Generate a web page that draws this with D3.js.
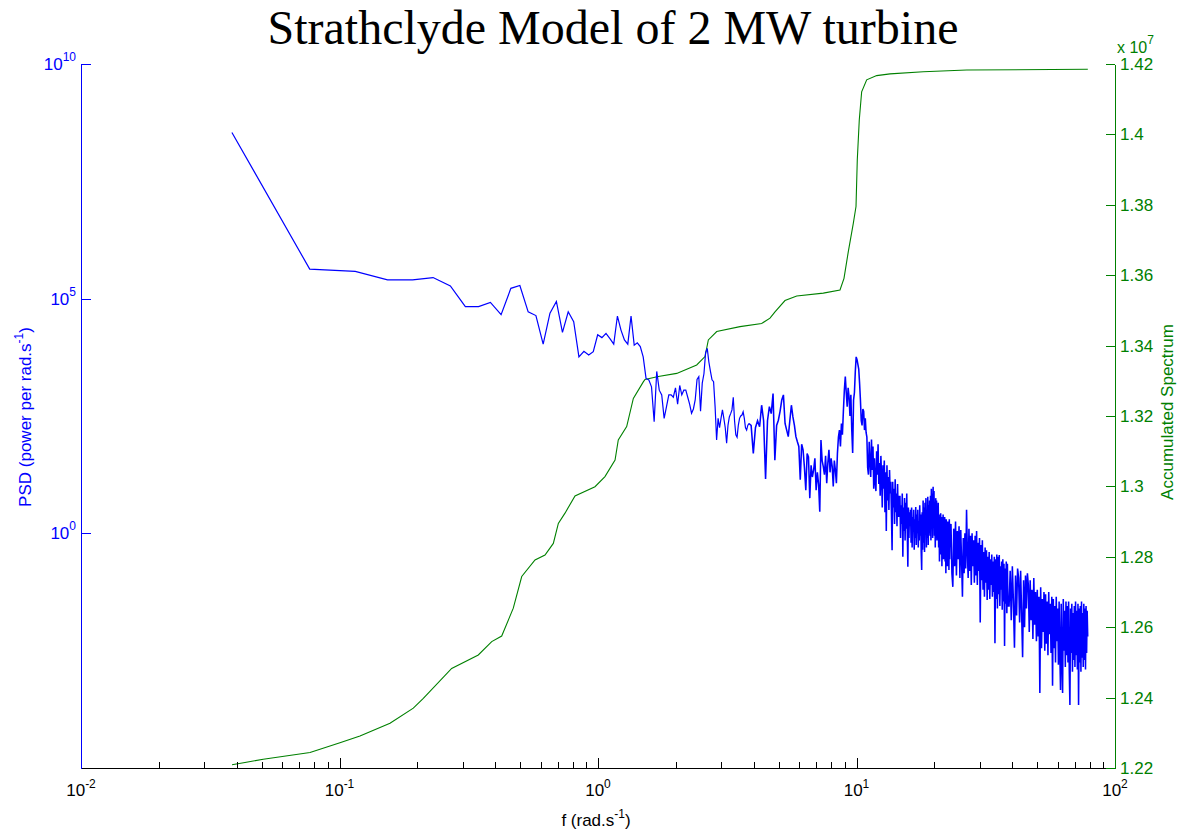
<!DOCTYPE html>
<html>
<head>
<meta charset="utf-8">
<script src="https://cdn.jsdelivr.net/npm/d3@7"></script>
<style>
  body { margin: 0; background: #fff; }
  svg { display: block; }
</style>
</head>
<body>
<svg id="chart" width="1178" height="832"></svg>
<script>
// ---------------------------------------------------------------
// Data
// ---------------------------------------------------------------
const chartTitle = "Strathclyde Model of 2 MW turbine";

// spectral resolution of the PSD, rad/s per bin
const binWidth = 0.03835;

// PSD as log10(power per rad/s), bins 1..42 (every bin)
const psdLogBins1to42 = [
  8.54, 5.63, 5.58, 5.40, 5.40, 5.45, 5.27, 4.83, 4.83, 4.92,
  4.66, 5.22, 5.28, 4.72, 4.64, 4.03, 4.69, 4.94, 4.28, 4.72,
  4.51, 3.76, 3.88, 3.80, 3.87, 4.23, 4.17, 4.26, 4.15, 4.03,
  4.63, 4.33, 4.12, 4.03, 4.63, 4.01, 4.06, 3.98, 3.76, 3.30,
  3.27, 3.12
];

// bins 43..100 (every bin)
const psdLogBins43to100 = [
  2.38, 3.45, 3.05, 2.95, 2.45, 2.70, 2.95, 2.95, 2.90, 3.10,
  2.75, 3.15, 2.95, 3.05, 3.05, 2.90, 2.75, 2.56, 2.65, 2.85,
  3.28, 3.34, 2.60, 3.20, 3.40, 3.85, 3.94, 3.65, 3.45, 3.27,
  3.23, 2.70, 1.99, 2.45, 2.25, 2.45, 2.63, 2.45, 2.25, 1.92,
  2.30, 2.48, 2.55, 2.63, 2.90, 2.40, 2.10, 2.05, 2.30, 2.45,
  2.50, 2.52, 2.59, 2.45, 2.25, 2.20, 2.30, 2.34
];

// bins 102..260 (every 2nd bin)
const psdLogBins102to260 = [
  2.30, 1.70, 2.25, 2.40, 2.27, 2.73, 2.40, 1.16, 2.40, 2.70,
  2.55, 2.98, 1.56, 2.30, 2.41, 2.60, 2.84, 2.95, 2.34, 2.20,
  2.06, 2.40, 2.73, 2.48, 2.30, 2.06, 1.95, 1.85, 1.14, 1.90,
  1.78, 1.40, 0.92, 1.70, 1.63, 0.75, 1.45, 1.20, 1.35, 1.60,
  0.92, 1.30, 1.05, 0.46, 1.99, 1.55, 1.42, 1.25, 1.65, 1.07,
  1.50, 1.78, 1.30, 1.60, 1.42, 1.00, 1.55, 1.35, 1.07, 1.70,
  2.05, 2.20, 1.85, 2.34, 2.10, 2.60, 3.05, 3.34, 3.00, 2.70,
  3.10, 2.91, 2.50, 2.95, 2.20, 1.71, 2.84, 3.00, 3.45, 3.76
];

// bins 262..600 (every 2nd bin)
const psdLogBins262to600 = [
  3.70, 3.60, 3.50, 3.20, 2.85, 2.40, 2.30, 2.65, 2.60, 2.20,
  2.45, 2.15, 2.05, 1.40, 1.25, 1.95, 1.50, 1.20, 2.00, 1.35,
  1.85, 0.95, 1.60, 1.10, 0.90, 1.75, 1.25, 1.90, 1.05, 1.50,
  0.80, 1.65, 1.20, 0.55, 1.45, 0.95, 1.55, 0.45, 1.30, 0.05,
  1.45, 0.70, 1.20, 0.50, 1.35, 0.85, 1.10, 0.40, -0.36, 1.10,
  0.55, 0.95, 0.20, 1.15, 0.45, 0.85, 0.15, 1.05, 0.35, 0.80,
  0.35, 0.80, -0.10, 0.60, 0.20, 0.85, -0.50, 0.55, 0.05, 0.75,
  -0.15, 0.65, 0.10, 0.85, 0.00, -0.71, 0.55, -0.10, 0.45, 0.15,
  0.50, -0.20, 0.55, -0.30, 0.35, 0.05, 0.50, -0.35, 0.30, -0.10,
  0.56, -0.25, 0.40, 0.00, 0.50, -0.30, 0.25, -0.15, 0.60, -0.05,
  0.40, -0.40, -0.78, 0.45, -0.35, 0.70, -0.20, 0.55, -0.40, 0.65,
  0.05, 0.75, -0.30, 0.50, -0.10, 0.78, -0.25, 0.60, 0.00, 0.70,
  -0.05, 0.80, -0.15, 0.95, 0.10, 0.85, -0.10, 0.99, 0.20, 0.90,
  -0.05, 0.60, -0.30, 0.75, 0.05, 0.70, -0.15, 0.55, 0.10, 0.65,
  -0.30, 0.40, -0.60, 0.30, -0.20, 0.43, -0.45, 0.35, -0.70, 0.20,
  -0.35, 0.40, -0.55, 0.25, -0.15, 0.35, -0.60, 0.10, -0.85, 0.30,
  -0.50, 0.20, -0.70, 0.25, -0.40, 0.15, -0.78, 0.30, -0.55, 0.10
];

// bins 605..1005 (every 5th bin)
const psdLogBins605to1005 = [
  0.20, -0.85, -1.14, 0.10, -0.70, 0.25, -0.90, 0.05, -0.55, 0.15,
  -0.95, 0.07, -0.60, -1.35, -0.10, -0.85, 0.00, -0.75, 0.50, -0.40,
  -0.95, 0.10, -0.80, -0.05, -1.10, 0.00, -0.70, -0.15, -1.05, -0.05,
  -0.90, 0.05, -1.10, -0.20, -0.80, -0.10, -1.90, -0.25, -1.00, -0.15,
  -1.20, -0.40, -1.35, -0.30, -1.05, -0.36, -1.42, -0.50, -1.20, -0.40,
  -1.40, -0.55, -1.10, -0.45, -1.35, -0.60, -1.25, -0.50, -2.34, -0.55,
  -1.40, -0.45, -1.60, -0.50, -1.30, -0.46, -1.55, -0.70, -1.20, -0.60,
  -1.63, -0.55, -1.45, -0.65, -2.40, -0.75, -1.50, -0.60, -1.70, -0.65,
  -1.55
];

// bins 1015..2045 (every 10th bin)
const psdLogBins1015to2045 = [
  -1.55, -0.80, -1.85, -0.70, -1.45, -2.44, -0.90, -1.75, -0.75,
  -0.95, -1.90, -0.80, -1.70, -2.64, -1.00, -2.00, -0.90, -1.60, -0.85,
  -1.10, -2.10, -1.00, -1.85, -1.20, -2.25, -0.95, -1.95, -1.25, -2.30,
  -1.20, -2.20, -1.35, -3.40, -1.15, -2.45, -1.40, -2.10, -1.25, -2.50,
  -1.30, -2.35, -1.45, -2.60, -1.25, -2.15, -1.50, -2.55, -1.35, -3.25,
  -1.40, -2.45, -1.55, -2.75, -1.35, -2.30, -1.60, -2.80, -1.45, -2.55,
  -3.34, -1.50, -2.70, -3.40, -1.40, -2.50, -1.65, -2.85, -1.45, -2.60,
  -1.55, -2.75, -1.45, -2.90, -3.66, -1.60, -2.55, -1.50, -2.95, -1.70,
  -2.70, -1.55, -2.85, -1.45, -2.60, -1.65, -2.90, -1.50, -3.66, -1.60,
  -2.75, -1.55, -2.95, -1.45, -2.65, -1.70, -2.85, -1.50, -2.70, -1.60,
  -2.90, -1.55, -2.55, -1.65, -2.20
];

// Accumulated spectrum: frequency (rad/s) and value
const accFreq = [
  0.0384, 0.0507, 0.0769, 0.1004, 0.1200, 0.1568, 0.1930, 0.2110, 0.2716, 0.3443,
  0.3880, 0.4241, 0.4702, 0.5069, 0.5706, 0.6237, 0.6717, 0.7024, 0.7453, 0.8147,
  0.9736, 1.064, 1.164, 1.198, 1.291, 1.370, 1.497, 1.520, 1.711, 2.016,
  2.409, 2.594, 2.672, 2.879, 3.542, 4.298, 4.628, 4.838, 5.289, 5.871,
  7.441, 8.633, 8.946, 9.296, 9.719, 9.956, 10.07, 10.25, 10.47, 10.95,
  11.97, 13.48, 18.13, 26.69, 78.5
];
const accValue = [
  1.2209e7, 1.2225e7, 1.2244e7, 1.2272e7, 1.2291e7, 1.2327e7, 1.2370e7, 1.2398e7, 1.2483e7, 1.2521e7,
  1.2559e7, 1.2575e7, 1.2654e7, 1.2744e7, 1.2791e7, 1.2805e7, 1.2838e7, 1.2895e7, 1.2924e7, 1.2973e7,
  1.2999e7, 1.3028e7, 1.3075e7, 1.3132e7, 1.3170e7, 1.3250e7, 1.3297e7, 1.3304e7, 1.3312e7, 1.3321e7,
  1.3345e7, 1.3369e7, 1.3416e7, 1.3440e7, 1.3454e7, 1.3463e7, 1.3478e7, 1.3496e7, 1.3528e7, 1.3541e7,
  1.3549e7, 1.3558e7, 1.3591e7, 1.3667e7, 1.3747e7, 1.3795e7, 1.3927e7, 1.4041e7, 1.4121e7, 1.4155e7,
  1.4167e7, 1.4172e7, 1.4178e7, 1.4183e7, 1.4185e7
];

// Axis ticks
const freqTickExps = [-2, -1, 0, 1, 2];
const psdTickExps = [0, 5, 10];
const accTicks = [1.22, 1.24, 1.26, 1.28, 1.30, 1.32, 1.34, 1.36, 1.38, 1.40, 1.42];
const accExponent = 7;

// ---------------------------------------------------------------
// Layout and scales
// ---------------------------------------------------------------
const plot = { left: 81, right: 1115, top: 64, bottom: 768 };
const blue = "#0000ff";
const green = "#008000";
const sans = "'Liberation Sans', Arial, Helvetica, sans-serif";
const serif = "'Liberation Serif', 'Times New Roman', Times, serif";

const x = d3.scaleLog().domain([1e-2, 1e2]).range([plot.left, plot.right]);
const yPsd = d3.scaleLog().domain([1e-5, 1e10]).range([plot.bottom, plot.top]);
const yAcc = d3.scaleLinear()
  .domain([accTicks[0] * 10 ** accExponent, accTicks[accTicks.length - 1] * 10 ** accExponent])
  .range([plot.bottom, plot.top]);

// assemble PSD points from the binned segments
const psdSegments = [
  { start: 1, step: 1, values: psdLogBins1to42 },
  { start: 43, step: 1, values: psdLogBins43to100 },
  { start: 102, step: 2, values: psdLogBins102to260 },
  { start: 262, step: 2, values: psdLogBins262to600 },
  { start: 605, step: 5, values: psdLogBins605to1005 },
  { start: 1015, step: 10, values: psdLogBins1015to2045 }
];
const psd = psdSegments.flatMap(s =>
  s.values.map((v, i) => ({ k: s.start + i * s.step, f: (s.start + i * s.step) * binWidth, p: Math.pow(10, v) }))
);
const acc = accFreq.map((f, i) => ({ f, v: accValue[i] }));

const svg = d3.select("#chart").style("font-family", sans);

// ---------------------------------------------------------------
// Series
// ---------------------------------------------------------------
svg.append("path")
  .datum(acc)
  .attr("fill", "none")
  .attr("stroke", green)
  .attr("stroke-width", 1.1)
  .attr("d", d3.line().x(d => x(d.f)).y(d => yAcc(d.v)));

// the PSD is stroked in two parts: the sparse low-frequency bins with a
// thin pen, the densely packed high-frequency bins a little heavier
const psdLine = d3.line().x(d => x(d.f)).y(d => yPsd(d.p));
const psdParts = [
  { data: psd.filter(d => d.k <= 100), width: 1.2 },
  { data: psd.filter(d => d.k >= 100), width: 1.55 }
];
svg.selectAll("path.psd")
  .data(psdParts)
  .join("path")
  .attr("class", "psd")
  .attr("fill", "none")
  .attr("stroke", blue)
  .attr("stroke-width", d => d.width)
  .attr("stroke-linejoin", "miter")
  .attr("d", d => psdLine(d.data));

// ---------------------------------------------------------------
// Axes
// ---------------------------------------------------------------
function styleAxis(g, color) {
  g.attr("color", color).attr("shape-rendering", "crispEdges");
  g.selectAll("text").remove();
}

// frequency axis (bottom)
const freqMajor = freqTickExps.map(e => Math.pow(10, e));
const freqMinor = [];
freqTickExps.slice(0, -1).forEach(e => {
  for (let m = 2; m <= 9; m++) freqMinor.push(m * Math.pow(10, e));
});

svg.append("g")
  .attr("transform", `translate(0,${plot.bottom})`)
  .call(d3.axisBottom(x).tickValues(freqMinor).tickSize(-6).tickSizeOuter(0).tickFormat(""))
  .call(g => styleAxis(g, "#000"));
svg.append("g")
  .attr("transform", `translate(0,${plot.bottom})`)
  .call(d3.axisBottom(x).tickValues(freqMajor).tickSize(-10).tickSizeOuter(0).tickFormat(""))
  .call(g => styleAxis(g, "#000"));

const xLabels = svg.append("g").attr("fill", "#000");
freqTickExps.forEach(e => {
  const t = xLabels.append("text")
    .attr("x", x(Math.pow(10, e)))
    .attr("y", 796)
    .attr("text-anchor", "middle")
    .attr("font-size", 17);
  t.append("tspan").text("10");
  t.append("tspan").attr("dy", -8).attr("font-size", 12).text(String(e));
});

// PSD axis (left)
svg.append("g")
  .attr("transform", `translate(${plot.left},0)`)
  .call(d3.axisLeft(yPsd).tickValues(psdTickExps.map(e => Math.pow(10, e)))
    .tickSize(-10).tickSizeOuter(0).tickFormat(""))
  .call(g => styleAxis(g, blue));

const yLabels = svg.append("g").attr("fill", blue);
psdTickExps.forEach(e => {
  const t = yLabels.append("text")
    .attr("x", plot.left - 5)
    .attr("y", yPsd(Math.pow(10, e)) + 6)
    .attr("text-anchor", "end")
    .attr("font-size", 17);
  t.append("tspan").text("10");
  t.append("tspan").attr("dy", -9).attr("font-size", 12).text(String(e));
});

// accumulated spectrum axis (right)
const fmtAcc = d3.format(".2~f");
svg.append("g")
  .attr("transform", `translate(${plot.right},0)`)
  .call(d3.axisRight(yAcc).tickValues(accTicks.map(v => v * 10 ** accExponent))
    .tickSize(-9).tickSizeOuter(0).tickFormat(""))
  .call(g => styleAxis(g, green));

const rLabels = svg.append("g").attr("fill", green);
accTicks.forEach(v => {
  rLabels.append("text")
    .attr("x", plot.right + 5)
    .attr("y", yAcc(v * 10 ** accExponent) + 6)
    .attr("font-size", 17)
    .text(fmtAcc(v));
});

const mult = rLabels.append("text")
  .attr("x", plot.right + 2)
  .attr("y", 53)
  .attr("font-size", 16);
mult.append("tspan").text("x 10");
mult.append("tspan").attr("dy", -9).attr("font-size", 12).text(String(accExponent));

// ---------------------------------------------------------------
// Titles
// ---------------------------------------------------------------
svg.append("text")
  .attr("x", 613)
  .attr("y", 44)
  .attr("text-anchor", "middle")
  .style("font-family", serif)
  .attr("font-size", 48)
  .attr("fill", "#000")
  .text(chartTitle);

const xTitle = svg.append("text")
  .attr("x", 596)
  .attr("y", 826)
  .attr("text-anchor", "middle")
  .attr("font-size", 17)
  .attr("fill", "#000");
xTitle.append("tspan").text("f (rad.s");
xTitle.append("tspan").attr("dy", -8).attr("font-size", 12).text("-1");
xTitle.append("tspan").attr("dy", 8).text(")");

const yTitle = svg.append("text")
  .attr("transform", "translate(31,417) rotate(-90)")
  .attr("text-anchor", "middle")
  .attr("font-size", 17)
  .attr("fill", blue);
yTitle.append("tspan").text("PSD (power per rad.s");
yTitle.append("tspan").attr("dy", -8).attr("font-size", 12).text("-1");
yTitle.append("tspan").attr("dy", 8).text(")");

svg.append("text")
  .attr("transform", "translate(1173,412) rotate(-90)")
  .attr("text-anchor", "middle")
  .attr("font-size", 17)
  .attr("fill", green)
  .text("Accumulated Spectrum");
</script>
</body>
</html>
